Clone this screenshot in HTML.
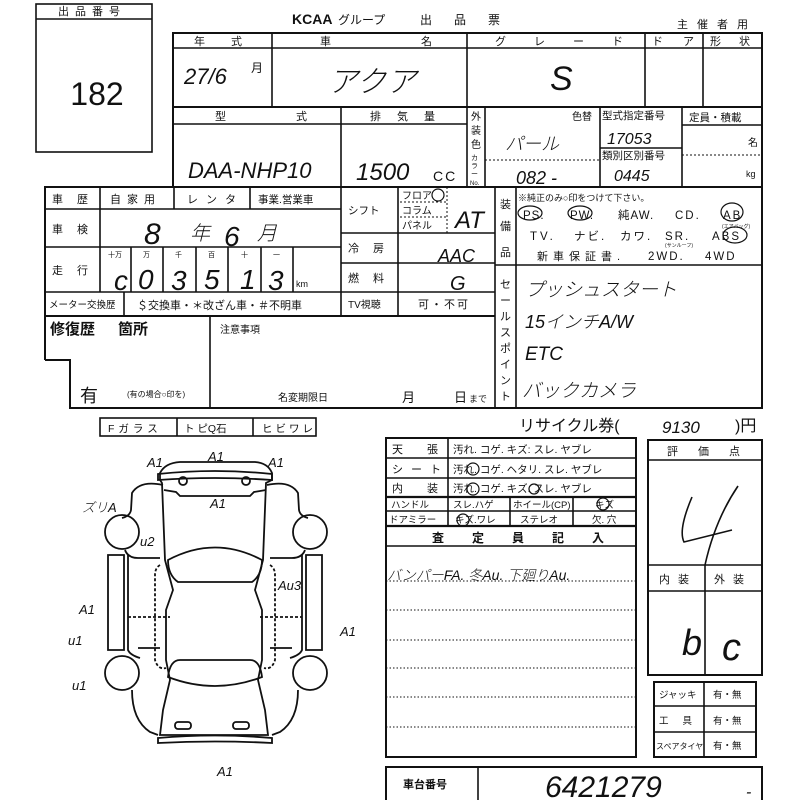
<!DOCTYPE html>
<html><head><meta charset="utf-8"><style>
html,body{margin:0;padding:0;background:#fff}
svg{display:block}
text{font-family:"Liberation Sans","Noto Sans CJK JP",sans-serif;fill:#111}
.h{font-family:"Liberation Sans","Noto Sans CJK JP",sans-serif;font-style:italic;font-weight:300}
</style></head><body>
<svg width="800" height="800" viewBox="0 0 800 800" xmlns="http://www.w3.org/2000/svg">
<g fill="none" stroke="#111" stroke-width="1.6">
<rect x="36" y="4" width="116" height="148"/>
<line x1="36" y1="19" x2="152" y2="19"/>
<rect x="173" y="33" width="589" height="154" stroke-width="2"/>
<line x1="173" y1="48" x2="762" y2="48"/>
<line x1="272" y1="33" x2="272" y2="107"/>
<line x1="467" y1="33" x2="467" y2="107"/>
<line x1="645" y1="33" x2="645" y2="107"/>
<line x1="703" y1="33" x2="703" y2="107"/>
<line x1="173" y1="107" x2="762" y2="107" stroke-width="2"/>
<line x1="173" y1="124" x2="467" y2="124"/>
<line x1="341" y1="107" x2="341" y2="316"/>
<line x1="467" y1="107" x2="467" y2="187"/>
<line x1="485" y1="107" x2="485" y2="187"/>
<line x1="600" y1="107" x2="600" y2="187"/>
<line x1="682" y1="107" x2="682" y2="187"/>
<line x1="600" y1="148" x2="682" y2="148"/>
<line x1="682" y1="125" x2="762" y2="125"/>
<line x1="682" y1="155" x2="762" y2="155" stroke-dasharray="2,2" stroke-width="1"/>
<line x1="485" y1="160" x2="600" y2="160" stroke-dasharray="2,2" stroke-width="1"/>
<path d="M45 360 V187 H762 V408 H70 V360 H45" stroke-width="2"/>
<line x1="45" y1="209" x2="341" y2="209"/>
<line x1="45" y1="247" x2="341" y2="247"/>
<line x1="45" y1="292" x2="495" y2="292"/>
<line x1="45" y1="316" x2="495" y2="316" stroke-width="2"/>
<line x1="100" y1="187" x2="100" y2="292"/>
<line x1="174" y1="187" x2="174" y2="209"/>
<line x1="250" y1="187" x2="250" y2="209"/>
<line x1="131" y1="247" x2="131" y2="292"/>
<line x1="163" y1="247" x2="163" y2="292"/>
<line x1="196" y1="247" x2="196" y2="292"/>
<line x1="228" y1="247" x2="228" y2="292"/>
<line x1="261" y1="247" x2="261" y2="292"/>
<line x1="293" y1="247" x2="293" y2="292"/>
<line x1="124" y1="292" x2="124" y2="316"/>
<line x1="398" y1="292" x2="398" y2="316"/>
<line x1="398" y1="187" x2="398" y2="233"/>
<line x1="447" y1="187" x2="447" y2="233" stroke-dasharray="2,2" stroke-width="1"/>
<line x1="400" y1="202" x2="447" y2="202" stroke-dasharray="2,2" stroke-width="1"/>
<line x1="400" y1="217" x2="447" y2="217" stroke-dasharray="2,2" stroke-width="1"/>
<line x1="341" y1="233" x2="495" y2="233"/>
<line x1="341" y1="263" x2="495" y2="263"/>
<line x1="398" y1="233" x2="398" y2="292"/>
<line x1="495" y1="187" x2="495" y2="408"/>
<line x1="516" y1="187" x2="516" y2="408"/>
<line x1="495" y1="265" x2="762" y2="265"/>
<line x1="210" y1="316" x2="210" y2="408"/>
<rect x="100" y="418" width="216" height="18"/>
<line x1="177" y1="418" x2="177" y2="436"/>
<line x1="253" y1="418" x2="253" y2="436"/>
<rect x="386" y="438" width="250" height="319" stroke-width="2"/>
<line x1="386" y1="458" x2="636" y2="458"/>
<line x1="386" y1="478" x2="636" y2="478"/>
<line x1="386" y1="497" x2="636" y2="497" stroke-width="2.2"/>
<line x1="386" y1="511" x2="636" y2="511"/>
<line x1="386" y1="526" x2="636" y2="526" stroke-width="2.2"/>
<line x1="386" y1="546" x2="636" y2="546"/>
<line x1="448" y1="438" x2="448" y2="526"/>
<line x1="510" y1="497" x2="510" y2="526"/>
<line x1="573" y1="497" x2="573" y2="526"/>
<g stroke-dasharray="1.5,2" stroke-width="1">
<line x1="386" y1="581" x2="636" y2="581"/>
<line x1="386" y1="610" x2="636" y2="610"/>
<line x1="386" y1="640" x2="636" y2="640"/>
<line x1="386" y1="668" x2="636" y2="668"/>
<line x1="386" y1="697" x2="636" y2="697"/>
<line x1="386" y1="727" x2="636" y2="727"/>
</g>
<rect x="648" y="440" width="114" height="235" stroke-width="2"/>
<line x1="648" y1="460" x2="762" y2="460"/>
<line x1="648" y1="565" x2="762" y2="565"/>
<line x1="648" y1="591" x2="762" y2="591"/>
<line x1="705" y1="565" x2="705" y2="675"/>
<rect x="654" y="682" width="102" height="75" stroke-width="2"/>
<line x1="654" y1="706" x2="756" y2="706"/>
<line x1="654" y1="732" x2="756" y2="732"/>
<line x1="704" y1="682" x2="704" y2="757"/>
<path d="M386 800 V767 H762 V800" stroke-width="2"/>
<line x1="478" y1="767" x2="478" y2="800"/>
<g stroke-width="1.8">
<path d="M160 473 Q165 463 180 462 H255 Q268 463 272 473 L272 480 L266 483 L263 560 L255 590 L262 610 L262 660 L258 680 L265 710 L268 735 L160 735 L163 710 L170 680 L166 660 L166 610 L173 590 L165 560 L162 483 L160 480 Z"/>
<path d="M158 474 Q215 468 272 474 L272 480 Q215 476 158 480 Z"/>
<path d="M164 490 L176 492 L180 496 H250 L254 492 L266 490"/>
<circle cx="183" cy="481" r="4"/><circle cx="246" cy="481" r="4"/>
<path d="M168 560 Q215 535 262 560 Q262 575 252 582 H178 Q168 575 168 560 Z"/>
<path d="M168 677 Q170 660 180 660 H250 Q260 660 262 677 Q215 695 168 677 Z"/>
<path d="M158 738 Q215 733 272 738 L272 743 Q215 740 158 743 Z"/>
<rect x="175" y="722" width="16" height="7" rx="3"/><rect x="233" y="722" width="16" height="7" rx="3"/>
<path d="M163 485 Q140 480 132 493 L131 510 Q130 516 122 518"/>
<path d="M267 485 Q290 480 298 493 L299 510 Q300 516 308 518"/>
<circle cx="122" cy="532" r="17"/><circle cx="310" cy="532" r="17"/>
<circle cx="122" cy="673" r="17"/><circle cx="310" cy="673" r="17"/>
<path d="M108 555 H124 V650 H108 Z"/>
<path d="M128 555 V650 Q130 655 140 658"/><path d="M138 558 H160 M138 648 H160 M125 550 Q128 558 138 558"/>
<path d="M322 555 H306 V650 H322 Z"/>
<path d="M302 555 V650 Q300 655 290 658"/><path d="M292 558 H270 M292 648 H270 M305 550 Q302 558 292 558"/>
<path d="M160 565 Q155 568 155 575 V660 Q158 670 166 668" stroke-dasharray="3,2"/>
<path d="M270 565 Q275 568 275 575 V660 Q272 670 264 668" stroke-dasharray="3,2"/>
<line x1="128" y1="617" x2="170" y2="617" stroke-dasharray="3,2"/>
<line x1="260" y1="617" x2="302" y2="617" stroke-dasharray="3,2"/>
<path d="M132 690 Q132 720 150 732 L158 735"/><path d="M298 690 Q298 720 280 732 L272 735"/>
</g>
</g>
<g fill="none" stroke="#111" stroke-width="1.2">
<ellipse cx="530" cy="213" rx="12" ry="7"/><ellipse cx="580" cy="213" rx="12" ry="7"/>
<ellipse cx="732" cy="212" rx="11" ry="9"/><ellipse cx="735" cy="235" rx="12" ry="8"/>
<circle cx="438" cy="195" r="6"/>
<circle cx="473" cy="469" r="6"/><circle cx="473" cy="489" r="6"/><circle cx="534" cy="489" r="5"/>
<circle cx="603" cy="504" r="6"/><circle cx="463" cy="520" r="6"/>
<path d="M692 497 Q678 530 684 542 Q700 538 732 530 M738 486 Q715 520 705 565" stroke-width="1.6"/>
</g>
<g font-size="11">
<text x="58" y="15" letter-spacing="6">出品番号</text>
<text x="97" y="105" font-size="32" text-anchor="middle">182</text>
<text x="292" y="24" font-size="14" font-weight="bold" font-family="Liberation Sans">KCAA</text>
<text x="338" y="24" font-size="12">グループ</text>
<text x="420" y="24" font-size="12" letter-spacing="22">出品票</text>
<text x="677" y="28" letter-spacing="9">主催者用</text>
<text x="194" y="45" letter-spacing="26">年式</text>
<text x="320" y="45" letter-spacing="90">車名</text>
<text x="495" y="45" letter-spacing="28">グレード</text>
<text x="652" y="45" letter-spacing="20">ドア</text>
<text x="710" y="45" letter-spacing="18">形状</text>
<text x="251" y="72" font-size="12">月</text>
<text x="215" y="120" letter-spacing="70">型式</text>
<text x="370" y="120" letter-spacing="16">排気量</text>
<text x="471" y="120" font-size="10">外</text><text x="471" y="134" font-size="10">装</text><text x="471" y="148" font-size="10">色</text>
<text x="471" y="160" font-size="7">カ</text><text x="471" y="168" font-size="7">ラ</text><text x="471" y="176" font-size="7">ー</text><text x="470" y="185" font-size="6">No.</text>
<text x="572" y="120" font-size="10">色替</text>
<text x="602" y="119" font-size="10.5">型式指定番号</text>
<text x="602" y="159" font-size="10.5">類別区別番号</text>
<text x="689" y="121" font-size="10.5">定員・積載</text>
<text x="748" y="146" font-size="10">名</text>
<text x="746" y="177" font-size="9">kg</text>
<text x="433" y="181" font-size="14" letter-spacing="2">CC</text>
<text x="52" y="203" letter-spacing="14">車歴</text>
<text x="110" y="203" letter-spacing="6">自家用</text>
<text x="187" y="203" letter-spacing="8">レンタ</text>
<text x="258" y="203" font-size="10.5">事業.営業車</text>
<text x="52" y="233" letter-spacing="14">車検</text>
<text x="52" y="274" letter-spacing="14">走行</text>
<g font-size="7"><text x="108" y="257">十万</text><text x="143" y="257">万</text><text x="175" y="257">千</text><text x="208" y="257">百</text><text x="241" y="257">十</text><text x="273" y="257">一</text></g>
<text x="296" y="287" font-size="9">km</text>
<text x="49" y="308" font-size="9.5">メーター交換歴</text>
<text x="137" y="309" font-size="11">＄交換車・＊改ざん車・＃不明車</text>
<text x="348" y="214" font-size="10.5">シフト</text>
<text x="402" y="199" font-size="10">フロア</text>
<text x="402" y="214" font-size="10">コラム</text>
<text x="402" y="229" font-size="10">パネル</text>
<text x="348" y="252" letter-spacing="14">冷房</text>
<text x="348" y="282" letter-spacing="14">燃料</text>
<text x="348" y="308" font-size="10">TV視聴</text>
<text x="418" y="308" letter-spacing="2">可・不可</text>
<text x="500" y="208" font-size="11">装</text><text x="500" y="230" font-size="11">備</text><text x="500" y="256" font-size="11">品</text>
<g font-size="11"><text x="500" y="288">セ</text><text x="500" y="304">ー</text><text x="500" y="320">ル</text><text x="500" y="336">ス</text><text x="500" y="352">ポ</text><text x="500" y="368">イ</text><text x="500" y="384">ン</text><text x="500" y="400">ト</text></g>
<text x="518" y="201" font-size="9">※純正のみ○印をつけて下さい。</text>
<text x="523" y="219" font-size="11.5" letter-spacing="1">PS.</text>
<text x="570" y="219" font-size="11.5" letter-spacing="1">PW.</text>
<text x="618" y="219" font-size="11.5" letter-spacing="1">純AW.</text>
<text x="675" y="219" font-size="11.5" letter-spacing="2">CD.</text>
<text x="723" y="219" font-size="11.5" letter-spacing="2">AB</text>
<text x="722" y="228" font-size="5">(エアバッグ)</text>
<text x="530" y="240" font-size="11.5" letter-spacing="3">TV.</text>
<text x="574" y="240" font-size="11.5" letter-spacing="2">ナビ.</text>
<text x="620" y="240" font-size="11.5" letter-spacing="2">カワ.</text>
<text x="665" y="240" font-size="11.5" letter-spacing="2">SR.</text>
<text x="665" y="247" font-size="5">(サンルーフ)</text>
<text x="712" y="240" font-size="11.5" letter-spacing="2">ABS</text>
<text x="537" y="260" font-size="11" letter-spacing="5">新車保証書.</text>
<text x="648" y="260" font-size="11.5" letter-spacing="2">2WD.</text>
<text x="705" y="260" font-size="11.5" letter-spacing="2">4WD</text>
<text x="50" y="334" font-size="15" font-weight="bold">修復歴</text>
<text x="118" y="334" font-size="15" font-weight="bold">箇所</text>
<text x="220" y="333" font-size="10">注意事項</text>
<text x="80" y="402" font-size="18">有</text>
<text x="127" y="397" font-size="8">(有の場合○印を)</text>
<text x="278" y="401" font-size="10">名変期限日</text>
<text x="402" y="402" font-size="13">月</text>
<text x="454" y="402" font-size="13">日</text><text x="469" y="402" font-size="9">まで</text>
<text x="108" y="432" font-size="10.5" letter-spacing="4">Fガラス</text>
<text x="184" y="432" font-size="10.5">ト ピQ石</text>
<text x="262" y="432" font-size="10.5" letter-spacing="3">ヒビワレ</text>
<text x="519" y="431" font-size="16">リサイクル券(</text>
<text x="735" y="431" font-size="16">)円</text>
<text x="392" y="453" letter-spacing="24">天張</text>
<text x="392" y="473" letter-spacing="8">シート</text>
<text x="392" y="492" letter-spacing="24">内装</text>
<g font-size="10.5"><text x="453" y="453">汚れ. コゲ. キズ: スレ. ヤブレ</text>
<text x="453" y="473">汚れ. コゲ. ヘタリ. スレ. ヤブレ</text>
<text x="453" y="492">汚れ. コゲ. キズ. スレ. ヤブレ</text></g>
<g font-size="9.5"><text x="391" y="508">ハンドル</text><text x="453" y="508">スレ.ハゲ</text><text x="513" y="508">ホイール(CP)</text><text x="595" y="508">キズ</text>
<text x="389" y="523">ドアミラー</text><text x="455" y="523">キズ.ワレ</text><text x="520" y="523">ステレオ</text><text x="592" y="523">欠. 穴</text></g>
<text x="432" y="542" font-size="12" font-weight="bold" letter-spacing="28">査定員記入</text>
<text x="667" y="455" font-size="11" letter-spacing="20">評価点</text>
<text x="659" y="583" letter-spacing="8">内装</text>
<text x="714" y="583" letter-spacing="8">外装</text>
<g font-size="9.5"><text x="659" y="698">ジャッキ</text><text x="713" y="698">有・無</text>
<text x="659" y="724" letter-spacing="14">工具</text><text x="713" y="724">有・無</text>
<text x="656" y="749" font-size="8">スペアタイヤ</text><text x="713" y="749">有・無</text></g>
<text x="403" y="788" font-size="11" font-weight="bold">車台番号</text>
</g>
<g class="h">
<text x="184" y="84" font-size="22" class="h">27/6</text>
<text x="328" y="92" font-size="30" class="h">アクア</text>
<text x="550" y="90" font-size="34" class="h">S</text>
<text x="188" y="178" font-size="22" class="h">DAA-NHP10</text>
<text x="356" y="180" font-size="24" class="h">1500</text>
<text x="505" y="150" font-size="18" class="h">パール</text>
<text x="516" y="184" font-size="18" class="h">082 -</text>
<text x="607" y="144" font-size="16" class="h">17053</text>
<text x="614" y="181" font-size="16" class="h">0445</text>
<text x="144" y="244" font-size="30" class="h">8</text>
<text x="190" y="240" font-size="20">年</text>
<text x="224" y="246" font-size="28" class="h">6</text>
<text x="257" y="240" font-size="20">月</text>
<text x="114" y="290" font-size="28" class="h">c</text>
<text x="138" y="289" font-size="28" class="h">0</text>
<text x="171" y="290" font-size="28" class="h">3</text>
<text x="204" y="289" font-size="28" class="h">5</text>
<text x="240" y="289" font-size="28" class="h">1</text>
<text x="268" y="290" font-size="28" class="h">3</text>
<text x="455" y="228" font-size="24" class="h">AT</text>
<text x="438" y="262" font-size="18" class="h">AAC</text>
<text x="450" y="290" font-size="20" class="h">G</text>
<text x="525" y="296" font-size="19" class="h">プッシュスタート</text>
<text x="525" y="328" font-size="18" class="h">15インチA/W</text>
<text x="525" y="360" font-size="19" class="h">ETC</text>
<text x="522" y="397" font-size="19" class="h">バックカメラ</text>
<text x="662" y="433" font-size="17" class="h">9130</text>
<text x="387" y="580" font-size="14" class="h">バンパーFA. 冬Au. 下廻りAu.</text>
<text x="682" y="655" font-size="36" class="h">b</text>
<text x="722" y="660" font-size="38" class="h">c</text>
<text x="545" y="797" font-size="30" class="h">6421279</text>
<text x="746" y="797" font-size="16">-</text>
<g font-size="13">
<text x="208" y="461" class="h">A1</text><text x="147" y="467" class="h">A1</text><text x="268" y="467" class="h">A1</text>
<text x="210" y="508" class="h">A1</text><text x="82" y="512" class="h">ズリA</text><text x="140" y="546" class="h">u2</text>
<text x="278" y="590" class="h">Au3</text><text x="79" y="614" class="h">A1</text><text x="68" y="645" class="h">u1</text>
<text x="340" y="636" class="h">A1</text><text x="72" y="690" class="h">u1</text><text x="217" y="776" class="h">A1</text>
</g>
</g>
</svg>
</body></html>
